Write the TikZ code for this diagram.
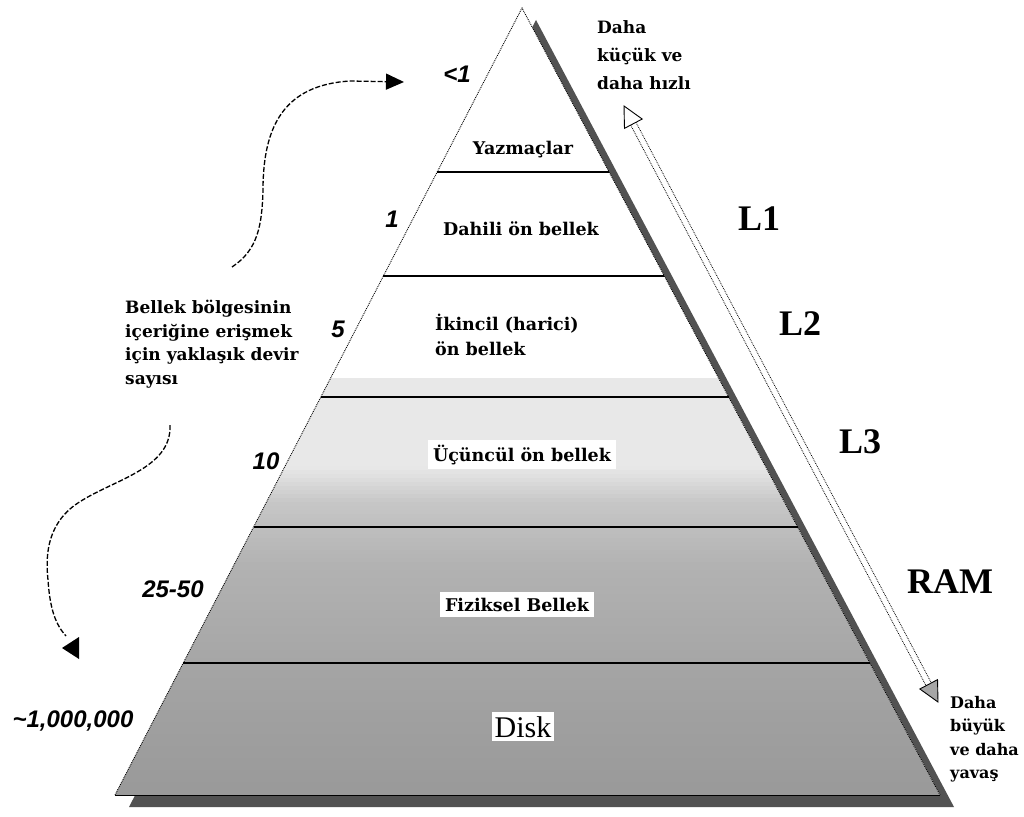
\documentclass[tikz,border=0pt]{standalone}
\usepackage{fontspec}
\setmainfont{DejaVu Serif}
\newfontfamily\timesf{Liberation Serif}
\newfontfamily\arialf{Liberation Sans}
\usetikzlibrary{arrows.meta,calc}

\begin{document}
\begin{tikzpicture}[x=1pt,y=-1pt,
  lvl/.style={font=\fontsize{17.5}{20}\selectfont\bfseries, inner sep=0pt},
  boxed/.style={lvl, fill=white, inner xsep=5pt, inner ysep=5pt},
  cyc/.style={font=\fontsize{24}{28}\selectfont\arialf\bfseries\itshape, anchor=base, inner sep=0pt},
  cache/.style={font=\fontsize{36}{40}\selectfont\timesf\bfseries, anchor=base west, inner sep=0pt},
  note/.style={font=\bfseries, align=left, anchor=north west, inner sep=0pt},
  sep/.style={line width=1.6pt},
  edge/.style={densely dotted, line width=0.9pt},
  curv/.style={line width=1.3pt, dash pattern=on 5pt off 2pt},
  rail/.style={densely dotted, line width=0.8pt},
]
\useasboundingbox (0,0) rectangle (1024,816);

% pyramid corners
\coordinate (apex) at (522,8);
\coordinate (bl) at (115,795);
\coordinate (br) at (940,795);

% drop shadow
\fill[black!68] ($(apex)+(14,12)$) -- ($(br)+(14,12)$) -- ($(bl)+(14,12)$) -- cycle;

% body with gradual fill towards the base
\begin{scope}
  \clip (apex) -- (br) -- (bl) -- cycle;
  \fill[white] (0,0) rectangle (1024,816);
  \foreach \y in {378,382,...,798} {
    \pgfmathsetmacro{\p}{\y<465 ? 9 : (\y<500 ? 9+(\y-465)*0.37 : (\y<560 ? 22+(\y-500)*0.13 : (\y<680 ? 30+(\y-560)*0.05 : 36+(\y-680)*0.035)))}
    \fill[black!\p] (0,\y) rectangle (1024,\y+4.4);
  }
\end{scope}

% level separators
\foreach \t in {0.2084,0.3405,0.4943,0.6595,0.8323}
  \draw[sep] ($(apex)!\t!(bl)$) -- ($(apex)!\t!(br)$);

% outline
\draw[edge] (bl) -- (apex) -- (br);
\draw[line width=1pt] (bl) -- (br);

% level names
\node[lvl, anchor=base] (reg) at (523,154) {Yazmaçlar};
\node[lvl, anchor=base] (int) at (521,235) {Dahili ön bellek};
\node[lvl, anchor=north west, align=left, font=\fontsize{17.5}{25}\selectfont\bfseries] (sec) at (435,314) {İkincil (harici)\\ön bellek};
\node[boxed, anchor=base] (ter) at (522,461) {Üçüncül ön bellek};
\node[boxed, anchor=base, inner ysep=6pt] (phy) at (517,611) {Fiziksel Bellek};
\node[fill=white, inner xsep=3pt, inner ysep=4pt, anchor=base, font=\fontsize{30}{34}\selectfont\timesf] (disk) at (523,737) {Disk};

% access cycles
\node[cyc] (c0) at (457,82) {<1};
\node[cyc] (c1) at (392,227) {1};
\node[cyc] (c2) at (338,337) {5};
\node[cyc] (c3) at (266,469) {10};
\node[cyc] (c4) at (173,597) {25-50};
\node[cyc] (c5) at (73,727) {\textasciitilde1,000,000};

% cache levels
\node[cache] (l1) at (738,230) {L1};
\node[cache] (l2) at (779,335) {L2};
\node[cache] (l3) at (839,453) {L3};
\node[cache] (ram) at (907,593) {RAM};

% side notes
\node[note, font=\fontsize{17}{28}\selectfont\bfseries] (fast) at (597,20) {Daha\\küçük ve\\daha hızlı};
\node[note, font=\fontsize{16}{23.5}\selectfont\bfseries] (slow) at (950,696) {Daha\\büyük\\ve daha\\yavaş};
\node[note, font=\fontsize{17}{23.5}\selectfont\bfseries] (cyclbl) at (125,300) {Bellek bölgesinin\\içeriğine erişmek\\için yaklaşık devir\\sayısı};

% speed / size double arrow
\coordinate (fastTip) at (624,106);
\coordinate (slowTip) at (938,702);
\coordinate (fastBase) at ($(fastTip)!20pt!(slowTip)$);
\coordinate (slowBase) at ($(slowTip)!20pt!(fastTip)$);
\draw[rail] ($(fastBase)!3pt!90:(slowBase)$) -- ($(slowBase)!3pt!-90:(fastBase)$);
\draw[rail] ($(fastBase)!3pt!-90:(slowBase)$) -- ($(slowBase)!3pt!90:(fastBase)$);
\draw[line width=0.9pt, fill=white] (fastTip) -- ($(fastBase)!10pt!90:(slowBase)$) -- ($(fastBase)!10pt!-90:(slowBase)$) -- cycle;
\draw[line width=0.9pt, fill=black!35] (slowTip) -- ($(slowBase)!10pt!90:(fastTip)$) -- ($(slowBase)!10pt!-90:(fastTip)$) -- cycle;

% curved pointers from the caption
\coordinate (up0) at (232,267);
\coordinate (upTip) at (404,82);
\draw[curv, -{Triangle[length=18pt,width=16pt]}] (up0) .. controls (258,250) and (262,225) .. (263,190)
  .. controls (263,125) and (285,85) .. (350,81) -- (upTip);
\coordinate (dn0) at (170,425);
\coordinate (dn1) at (66,636);
\draw[curv] (dn0) .. controls (172,470) and (110,480) .. (75,505)
  .. controls (45,527) and (46,560) .. (48,580)
  .. controls (50,610) and (56,625) .. (dn1);
\fill (62,648) -- (79,637) -- (79,659) -- cycle;
\end{tikzpicture}
\end{document}
